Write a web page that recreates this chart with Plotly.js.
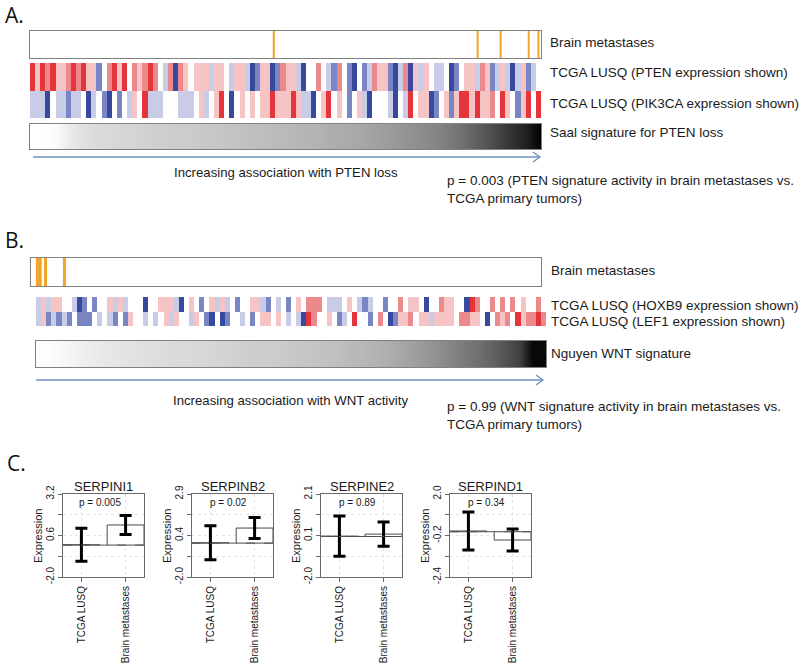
<!DOCTYPE html>
<html>
<head>
<meta charset="utf-8">
<script src="https://cdn.plot.ly/plotly-3.0.1.min.js"></script>
<style>
  html, body { margin: 0; padding: 0; background: #fff; }
  #chart { width: 800px; height: 665px; }
</style>
</head>
<body>
<div id="chart"></div>
<script>
// ---- data ----
// Panel A: samples ordered by Saal PTEN-loss signature, expression on a -3..3 scale
const ptenA = [3, 1, 3, 2, 3, 1, 1, 2, 3, 2, 3, 1, 1, -2, 0, 2, 3, 1, 3, 0,
  2, 1, 2, 3, 2, 0, -1, 2, -3, 2, 1, 0, 1, 1, 1, -1, 1, 1, 0, -1,
  1, 1, -1, -3, -2, 1, 1, -3, -2, 2, 1,
  1, -1, -3, 0, 0, 2, 0, -1, -2, 2, 0, -2, -3, 0, -2, -1, 2, 1, 1, -2,
  -3, -1, 2, -3, 1, -1, 1, 0, -1, -1, 0, -3, -2, 0, 1, 1, -1, 2, 1, -2,
  -1, 1, -1, -3, -1, 1, -2, -1, 0]
const pik3caA = [-1, -1, -1, -3, 0, -1, -1, -2, -1, -1, 0, -3, -1, 0, -2, -3, 0, -2, 0, -1,
  1, 0, 3, -1, -1, -1, 0, 0, 0, -1, -1, -1, 0, 1, -1, 0, 1, 3, 0, -3,
  0, 1, 0, 1, 0, 1, 1, 3, 1, 1, 1,
  3, 1, -1, -1, -3, 0, 1, 3, 0, 1, 0, -2, 0, 1, -1, -3, 0, 0, 0, -1,
  -3, 0, -1, 3, 0, 1, 1, -3, -2, 0, 1, -2, 1, 3, 3, 1, 3, 1, 1, 2,
  0, 3, 1, 0, -2, 1, 3, 0, 3]
const saalScore = [0, 0, 0.02, 0.08, 0.12, 0.14, 0.15, 0.16, 0.17, 0.18,
  0.19, 0.2, 0.2, 0.21, 0.22, 0.23, 0.24, 0.25, 0.26, 0.27,
  0.28, 0.29, 0.3, 0.32, 0.33, 0.34, 0.36, 0.38, 0.4, 0.43,
  0.45, 0.48, 0.52, 0.56, 0.62, 0.68, 0.75, 0.82, 0.88, 1.0]
const brainA = [47.2, 87.1, 91.6, 97.1, 99.0]

// Panel B: samples ordered by Nguyen WNT signature
const hoxb9B = [-1, 1, -1, 1, 1, 0, 0, -1, -3, -2, 0, -2, 0, 0, 1, -1, 1, -1, 0, 0,
  0, -3, 0, 0, 1, 1, 1, -1, -3, 0, 1, 0, -2, 0, 1, -1, 1, -1, 0, -2,
  0, 0, 1, 1, -1, -2, 0, -1, 0, -2, 0,
  1, 0, 2, 2, 2, 0, -1, -1, -1, 0, 1, 0, -1, -2, -1, 0, 0, -2, 0, 0,
  2, 0, 1, 1, 0, -3, 0, 0, 2, 1, 1, 0, 0, -3, 3, 2, 0, 0, 2, 0,
  2, 0, 2, 0, 1, 0, 0, 2, 0]
const lef1B = [-1, 1, -2, -1, -2, -1, -2, 0, -2, -2, -2, 0, -1, 0, -1, -2, 0, -2, 1, 0,
  0, -1, 0, -1, 0, 1, -1, 1, 0, 0, -1, 1, 0, -2, -3, 0, -3, -2, 0, 0,
  -1, 0, -2, 0, 1, 1, 0, 1, 0, -1, 0,
  -1, -3, 3, 2, 0, 0, 1, 0, -2, -1, 0, 3, 0, 0, -2, 0, 2, 0, -3, -2,
  1, 1, 2, 0, 1, 1, -1, 1, 1, 1, 1, 0, 2, 2, 1, 1, 0, -3, 0, 2,
  1, 2, 0, 3, 1, 2, 2, 3, 2]
const nguyenScore = [0, 0.01, 0.03, 0.05, 0.07, 0.09, 0.1, 0.11, 0.12, 0.13,
  0.14, 0.15, 0.15, 0.16, 0.17, 0.18, 0.19, 0.2, 0.2, 0.21,
  0.22, 0.23, 0.24, 0.25, 0.27, 0.28, 0.3, 0.32, 0.35, 0.38,
  0.41, 0.45, 0.49, 0.53, 0.57, 0.62, 0.68, 0.75, 0.97, 0.97]
const brainB = [0.75, 1.3, 2.35, 6.05]

// Panel C: SERPIN expression, mean +/- error
const genes = ["SERPINI1", "SERPINB2", "SERPINE2", "SERPIND1"]
const groups = ["TCGA LUSQ", "Brain metastases"]
const pValues = ["p = 0.005", "p = 0.02", "p = 0.89", "p = 0.34"]
const tcgaMean = [0.02, 0.02, 0.02, 0.04]
const tcgaErr = [1.03, 1.0, 0.99, 1.01]
const brainMean = [1.26, 0.89, 0.12, -0.44]
const brainErr = [0.6, 0.62, 0.6, 0.58]
const yLimits = [[-2.0, 3.2], [-2.0, 2.9], [-2.0, 2.1], [-2.4, 2.0]]
const yTickText = [["-2.0", "0.6", "3.2"], ["-2.0", "0.4", "2.9"], ["-2.0", "0.1", "2.1"], ["-2.4", "-0.2", "2.0"]]

// ---- helpers ----
const W = 800, H = 665
const fx = (x) => x / W
const fy = (y) => 1 - y / H
const FONT = "Liberation Sans, Arial, sans-serif"
const ORANGE = "#f3a326"
const ARROW = "#6f90bd"

const exprScale = [
  [0, "#37489f"], [0.1667, "#7a85c3"], [0.3333, "#c8cce7"], [0.5, "#ffffff"],
  [0.6667, "#f6c4c4"], [0.8333, "#ec8a8b"], [1, "#e5353a"],
]
const grayScale = [[0, "#ffffff"], [1, "#000000"]]

function stripAxis(domain, range, border, anchor) {
  return {
    domain: domain, range: range, anchor: anchor, fixedrange: true,
    showgrid: false, zeroline: false, showticklabels: false, ticks: "",
    showline: border, mirror: border, linecolor: "#808080", linewidth: 1,
  }
}

function brainLines(positions) {
  const xs = [], ys = []
  positions.forEach((p) => {
    xs.push(p, p, null)
    ys.push(0, 1, null)
  })
  return { xs, ys }
}

const traces = []
const layout = {
  width: W, height: H,
  margin: { l: 0, r: 0, t: 0, b: 0 },
  paper_bgcolor: "#ffffff",
  plot_bgcolor: "rgba(0,0,0,0)",
  showlegend: false,
  font: { family: FONT, color: "#1a1a1a" },
  annotations: [],
  shapes: [],
}

// ---- Panel A ----
const bA = brainLines(brainA)
traces.push({ type: "scatter", mode: "lines", x: bA.xs, y: bA.ys, xaxis: "x", yaxis: "y",
  line: { color: ORANGE, width: 2 }, hoverinfo: "skip" })
layout.xaxis = stripAxis([fx(30), fx(541)], [-0.5, 99.5], true, "y")
layout.yaxis = stripAxis([fy(58), fy(31)], [0, 1], true, "x")

traces.push({ type: "heatmap", z: [ptenA, pik3caA], xaxis: "x2", yaxis: "y2",
  colorscale: exprScale, zmin: -3, zmax: 3, showscale: false, hoverinfo: "skip" })
layout.xaxis2 = stripAxis([fx(30), fx(541)], [-0.5, 99.5], false, "y2")
layout.yaxis2 = stripAxis([fy(118), fy(63)], [1.5, -0.5], false, "x2")

// signature bar: the same score row twice so the gradient can be smoothed
traces.push({ type: "heatmap", z: [saalScore, saalScore], xaxis: "x3", yaxis: "y3",
  zsmooth: "best", colorscale: grayScale, zmin: 0, zmax: 1, showscale: false, hoverinfo: "skip" })
layout.xaxis3 = stripAxis([fx(30), fx(541)], [0, 39], true, "y3")
layout.yaxis3 = stripAxis([fy(149), fy(124)], [0, 1], true, "x3")

// ---- Panel B ----
const bB = brainLines(brainB)
traces.push({ type: "scatter", mode: "lines", x: bB.xs, y: bB.ys, xaxis: "x4", yaxis: "y4",
  line: { color: ORANGE, width: 3 }, hoverinfo: "skip" })
layout.xaxis4 = stripAxis([fx(31), fx(541)], [-0.5, 99.5], true, "y4")
layout.yaxis4 = stripAxis([fy(286), fy(258)], [0, 1], true, "x4")

traces.push({ type: "heatmap", z: [hoxb9B, lef1B], xaxis: "x5", yaxis: "y5",
  colorscale: exprScale, zmin: -3, zmax: 3, showscale: false, hoverinfo: "skip" })
layout.xaxis5 = stripAxis([fx(36), fx(546)], [-0.5, 99.5], false, "y5")
layout.yaxis5 = stripAxis([fy(326), fy(297)], [1.5, -0.5], false, "x5")

traces.push({ type: "heatmap", z: [nguyenScore, nguyenScore], xaxis: "x6", yaxis: "y6",
  zsmooth: "best", colorscale: grayScale, zmin: 0, zmax: 1, showscale: false, hoverinfo: "skip" })
layout.xaxis6 = stripAxis([fx(36), fx(546)], [0, 39], true, "y6")
layout.yaxis6 = stripAxis([fy(367), fy(341)], [0, 1], true, "x6")

// ---- text for panels A and B ----
function note(text, x, y, size, opts) {
  layout.annotations.push(Object.assign({
    text: text, x: fx(x), y: fy(y), xref: "paper", yref: "paper",
    xanchor: "left", yanchor: "middle", showarrow: false,
    font: { size: size, family: FONT, color: "#1a1a1a" },
  }, opts || {}))
}

note("A.", 3, 15, 21, { font: { size: 21, family: "Open Sans, sans-serif", color: "#111" } })
note("Brain metastases", 548, 43, 13.5)
note("TCGA LUSQ (PTEN expression shown)", 548, 73, 13.5)
note("TCGA LUSQ (PIK3CA expression shown)", 548, 103, 13.5)
note("Saal signature for PTEN loss", 548, 133, 13.5)
note("Increasing association with PTEN loss", 286, 173, 13.2, { xanchor: "center" })
note("p = 0.003 (PTEN signature activity in brain metastases vs.<br>TCGA primary tumors)", 445, 189, 13.5, { align: "left" })

note("B.", 3, 240, 21, { font: { size: 21, family: "Open Sans, sans-serif", color: "#111" } })
note("Brain metastases", 549, 270, 13.5)
note("TCGA LUSQ (HOXB9 expression shown)", 549, 305, 13.5)
note("TCGA LUSQ (LEF1 expression shown)", 549, 322, 13.5)
note("Nguyen WNT signature", 549, 353, 13.5)
note("Increasing association with WNT activity", 290, 400, 13.2, { xanchor: "center" })
note("p = 0.99 (WNT signature activity in brain metastases vs.<br>TCGA primary tumors)", 445, 415, 13.5, { align: "left" })

note("C.", 5, 463, 21, { font: { size: 21, family: "Open Sans, sans-serif", color: "#111" } })

// arrows
function arrow(x0, x1, y) {
  layout.shapes.push({ type: "line", xref: "paper", yref: "paper",
    x0: fx(x0), x1: fx(x1), y0: fy(y), y1: fy(y), line: { color: ARROW, width: 1.3 } })
  layout.shapes.push({ type: "path", xref: "paper", yref: "paper",
    path: `M ${fx(x1 - 7)},${fy(y - 5)} L ${fx(x1)},${fy(y)} L ${fx(x1 - 7)},${fy(y + 5)}`,
    line: { color: ARROW, width: 1.3 } })
}
arrow(33, 540, 157)
arrow(36, 543, 380)

// ---- Panel C ----
const barW = 1 / 1.2
genes.forEach((gene, i) => {
  const n = 7 + i
  const xa = "x" + n, ya = "y" + n
  const left = 63 + i * 129
  const right = left + 81
  const lim = yLimits[i]
  const step = (lim[1] - lim[0]) / 4
  const tickvals = [0, 1, 2, 3, 4].map((k) => lim[0] + k * step)
  const ticktext = [yTickText[i][0], "", yTickText[i][1], "", yTickText[i][2]]

  traces.push({
    type: "bar", x: groups, y: [tcgaMean[i], brainMean[i]], base: 0, width: barW,
    xaxis: xa, yaxis: ya, hoverinfo: "skip",
    marker: { color: "#ffffff", line: { color: "#4a4a4a", width: 1 } },
    error_y: { type: "data", array: [tcgaErr[i], brainErr[i]], visible: true,
      color: "#000000", thickness: 3, width: 6 },
  })

  layout["xaxis" + n] = {
    domain: [fx(left), fx(right)], anchor: ya, type: "category",
    range: [-barW / 2, 1 + barW / 2], fixedrange: true,
    showline: true, mirror: true, linecolor: "#6a6a6a", linewidth: 1,
    ticks: "outside", ticklen: 4, tickcolor: "#6a6a6a", tickangle: -90,
    tickfont: { size: 10, family: FONT, color: "#1a1a1a" },
    showgrid: true, gridcolor: "#e4e4e4", griddash: "dot", zeroline: false,
  }
  layout["yaxis" + n] = {
    domain: [fy(577), fy(494)], anchor: xa, range: lim, fixedrange: true,
    tickmode: "array", tickvals: tickvals, ticktext: ticktext,
    showline: true, mirror: true, linecolor: "#6a6a6a", linewidth: 1,
    ticks: "outside", ticklen: 4, tickcolor: "#6a6a6a", tickangle: -90,
    tickfont: { size: 10, family: FONT, color: "#1a1a1a" },
    showgrid: true, gridcolor: "#e4e4e4", griddash: "dot", zeroline: false,
  }

  // dashed reference line at zero
  layout.shapes.push({ type: "line", xref: xa + " domain", yref: ya,
    x0: 0, x1: 1, y0: 0, y1: 0, line: { color: "#555", width: 1, dash: "dash" } })

  note(gene, (left + right) / 2, 486, 13, { xanchor: "center" })
  note(pValues[i], (left + right) / 2 - 4, 502, 10, { xanchor: "center" })
  note("Expression", left - 25, 536, 11, { xanchor: "center", textangle: -90 })
})

Plotly.newPlot("chart", traces, layout, { staticPlot: true, displayModeBar: false })
</script>
</body>
</html>
